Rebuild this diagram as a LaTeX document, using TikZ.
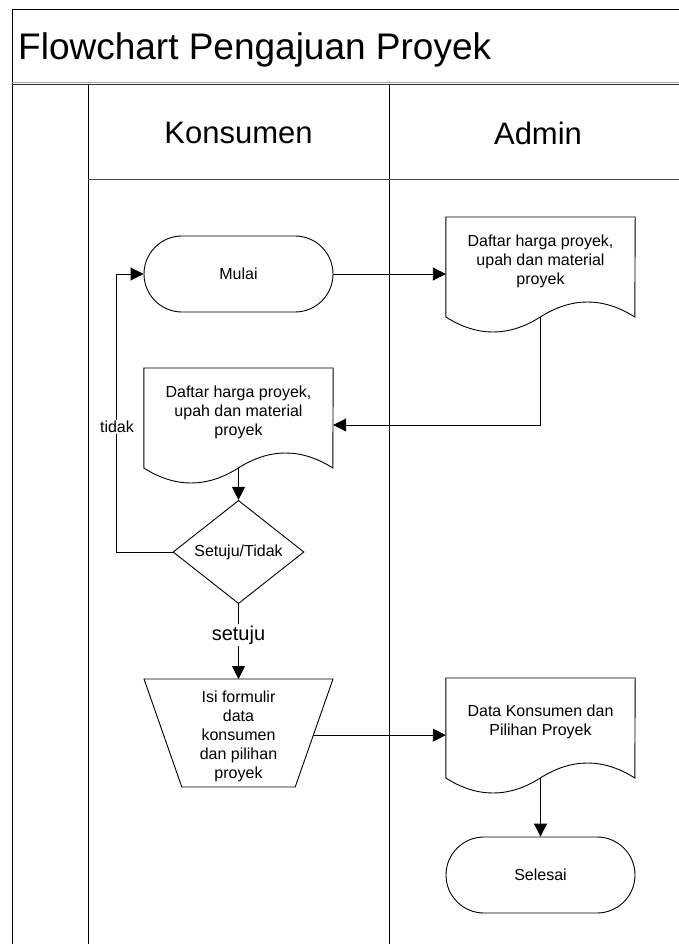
\documentclass[tikz,border=0pt]{standalone}
\usepackage{fontspec}
\setmainfont{Liberation Sans}
\usetikzlibrary{shapes.geometric,shapes.misc,arrows.meta,calc}

\newcommand\flowfont{\fontsize{16}{19}\selectfont}

% document symbol: box with a wavy lower edge, hung from the north corners of a text node
\newcommand\docoutline[1]{%
  \draw[shapeline] (#1.north west) -- ($(#1.north west)+(0,100)$)
    .. controls ($(#1.north west)+(31.5,120)$) and ($(#1.north west)+(63,120)$) .. ($(#1.north west)+(94.5,100)$)
    .. controls ($(#1.north west)+(126,80)$) and ($(#1.north west)+(157.5,80)$) .. ($(#1.north west)+(189,100)$)
    -- (#1.north east) -- cycle;
  \coordinate (#1-b) at ($(#1.north)+(0,100)$);}

\begin{document}
\begin{tikzpicture}[x=1pt,y=-1pt,
  frameline/.style={draw=black, line width=1pt},
  shapeline/.style={draw=black, line width=0.9pt},
  terminal/.style={rounded rectangle, shapeline, minimum width=189pt, minimum height=76pt, inner sep=0pt, font=\flowfont},
  doctext/.style={rectangle, minimum width=189pt, minimum height=88pt, anchor=north, align=center, inner sep=0pt, font=\flowfont},
  decision/.style={diamond, shapeline, minimum width=131pt, minimum height=78pt, inner sep=0pt, font=\flowfont},
  bodytext/.style={align=center, inner sep=0pt, font=\flowfont},
  lbl/.style={fill=white, inner sep=1.5pt, font=\flowfont},
  flow/.style={draw=black, line width=0.9pt, -{Triangle[length=13pt,width=13pt]}},
  lanehead/.style={font=\fontsize{31}{36}\selectfont}]

\useasboundingbox (0,0) rectangle (679,944);
\fill[white] (0,0) rectangle (679,944);

% pool frame and swimlanes
\draw[frameline] (12,944) -- (12,9.5) -- (679,9.5);
\draw[draw=gray!70, line width=1pt] (12,83) -- (679,83);
\draw[draw=gray!40!black, line width=1pt] (12,85) -- (679,85);
\draw[frameline] (88,85) -- (88,944);
\draw[frameline] (389,85) -- (389,944);
\draw[draw=gray!60!black, line width=1pt] (88,180) -- (679,180);

\node[anchor=base west, inner sep=0pt, font=\fontsize{37}{44}\selectfont] (judul) at (18,60) {Flowchart Pengajuan Proyek};
\node[lanehead] (konsumen) at (238.5,133) {Konsumen};
\node[lanehead] (admin) at (538,133) {Admin};

% flow symbols
\node[terminal] (mulai) at (238.5,274) {Mulai};

\node[doctext] (admdoc) at (540.5,217) {Daftar harga proyek,\\upah dan material\\proyek};
\docoutline{admdoc}

\node[doctext] (kondoc) at (238.5,368) {Daftar harga proyek,\\upah dan material\\proyek};
\docoutline{kondoc}

\node[decision] (keputusan) at (238.5,552) {Setuju/Tidak};

\coordinate (isi-tl) at (144,679);
\coordinate (isi-tr) at (333,679);
\coordinate (isi-br) at (295.2,787);
\coordinate (isi-bl) at (181.8,787);
\draw[shapeline] (isi-tl) -- (isi-tr) -- (isi-br) -- (isi-bl) -- cycle;
\node[bodytext] (isi) at (238.5,736) {Isi formulir\\data\\konsumen\\dan pilihan\\proyek};
\coordinate (isi-top) at ($(isi-tl)!0.5!(isi-tr)$);
\coordinate (isi-out) at ($(isi-tr)!0.52!(isi-br)$);

\node[doctext] (datadoc) at (540.5,678) {Data Konsumen dan\\Pilihan Proyek};
\docoutline{datadoc}

\node[terminal] (selesai) at (540.5,875) {Selesai};

% connectors
\coordinate (kondoc-in) at ($(kondoc.north east)+(0,57)$);
\draw[flow] (mulai.east) -- (admdoc.north west |- mulai.east);
\draw[flow] (admdoc-b) |- (kondoc-in);
\draw[flow] (kondoc-b) -- (keputusan.north);
\draw[flow] (keputusan.west) -- ++(-56.5,0) |- (mulai.west);
\draw[flow] (keputusan.south) -- (isi-top);
\draw[flow] (isi-out) -- (datadoc.north west |- isi-out);
\draw[flow] (datadoc-b) -- (selesai.north);

% branch labels
\node[lbl] (tidak) at (117,427) {tidak};
\node[lbl, font=\fontsize{20}{24}\selectfont] (setuju) at (238.5,635) {setuju};

\end{tikzpicture}
\end{document}
